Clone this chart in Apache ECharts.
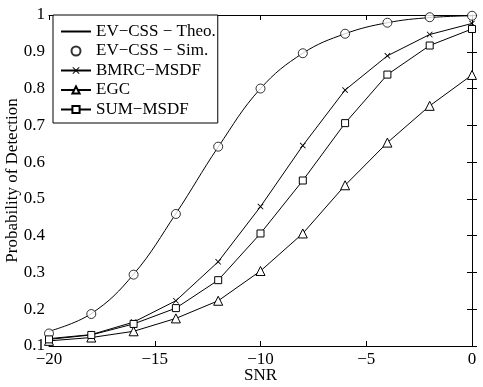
<!DOCTYPE html>
<html>
<head>
<meta charset="utf-8">
<script src="https://cdn.jsdelivr.net/npm/echarts@6/dist/echarts.min.js"></script>
<style>
  html, body { margin: 0; padding: 0; background: #fff; }
  #main { width: 483px; height: 387px; }
</style>
</head>
<body>
<div id="main"></div>
<script>
// SNR points (dB)
var snr = [-20, -18, -16, -14, -12, -10, -8, -6, -4, -2, 0];
// curves
var evTheo = [0.140, 0.188, 0.295, 0.460, 0.641, 0.800, 0.896, 0.949, 0.979, 0.993, 0.998];
var evSim  = [0.134, 0.187, 0.294, 0.459, 0.642, 0.800, 0.896, 0.949, 0.979, 0.994, 0.998];
var bmrc   = [0.120, 0.131, 0.165, 0.223, 0.329, 0.479, 0.645, 0.796, 0.889, 0.947, 0.977];
var egc    = [0.114, 0.123, 0.140, 0.175, 0.223, 0.304, 0.406, 0.537, 0.653, 0.753, 0.837];
var sumMsdf = [0.118, 0.130, 0.160, 0.203, 0.279, 0.406, 0.550, 0.706, 0.838, 0.917, 0.962];
var names = ['EV\u2212CSS \u2212 Theo.', 'EV\u2212CSS \u2212 Sim.', 'BMRC\u2212MSDF', 'EGC', 'SUM\u2212MSDF'];

function pairs(v) {
  var out = [];
  for (var i = 0; i < snr.length; i++) out.push([snr[i], v[i]]);
  return out;
}

var font = '"Liberation Serif", "DejaVu Serif", serif';
var xMark = 'path://M0,1L1,0L5,4L9,0L10,1L6,5L10,9L9,10L5,6L1,10L0,9L4,5Z';

var myChart = echarts.init(document.getElementById('main'));

// hollow markers: white fill, thin black edge
var hollow = { color: '#fff', borderColor: '#000', borderWidth: 1 };

var lineBase = {
  type: 'line',
  lineStyle: { color: '#000', width: 1 },
  showSymbol: true,
  animation: false
};

var option = {
  animation: false,
  textStyle: { fontFamily: font, color: '#000' },
  grid: { left: 49, right: 11, top: 15, bottom: 41, containLabel: false, outerBoundsMode: 'none' },
  legend: {
    orient: 'vertical',
    left: 53,
    top: 15,
    backgroundColor: '#fff',
    borderColor: '#000',
    borderWidth: 1,
    borderRadius: 0,
    padding: [8, 2, 5, 7],
    itemWidth: 30,
    itemHeight: 9,
    itemGap: 2.5,
    textStyle: { fontFamily: font, fontSize: 17, color: '#000', padding: [0, 0, 0, 0] },
    data: [
      { name: names[0], itemStyle: { color: 'transparent', borderColor: 'transparent', borderWidth: 0 } },
      { name: names[1] },
      { name: names[2] },
      { name: names[3] },
      { name: names[4] }
    ]
  },
  xAxis: [{
    type: 'value', min: -20, max: 0, interval: 5,
    name: 'SNR', nameLocation: 'middle', nameGap: 21, nameMoveOverlap: false,
    nameTextStyle: { fontFamily: font, fontSize: 17, color: '#000' },
    axisLine: { lineStyle: { color: '#000', width: 1 } },
    axisTick: { inside: true, length: 5, lineStyle: { color: '#000' } },
    axisLabel: {
      fontFamily: font, fontSize: 17, color: '#000', margin: 5,
      formatter: function (v) { return String(v).replace('-', '\u2212'); }
    },
    splitLine: { show: false }
  }, {
    type: 'value', position: 'top', min: -20, max: 0, interval: 5,
    axisLine: { lineStyle: { color: '#000', width: 1 } },
    axisTick: { inside: true, length: 5, lineStyle: { color: '#000' } },
    axisLabel: { show: false },
    splitLine: { show: false }
  }],
  yAxis: [{
    type: 'value', min: 0.1, max: 1, interval: 0.1,
    name: 'Probability of Detection', nameLocation: 'middle', nameGap: 28, nameMoveOverlap: false,
    nameTextStyle: { fontFamily: font, fontSize: 17, color: '#000' },
    axisLine: { show: true, lineStyle: { color: '#000', width: 1 } },
    axisTick: { show: true, inside: true, length: 5, lineStyle: { color: '#000' } },
    axisLabel: {
      fontFamily: font, fontSize: 17, color: '#000', margin: 4,
      formatter: function (v) { return String(Math.round(v * 10) / 10); }
    },
    splitLine: { show: false }
  }, {
    type: 'value', position: 'right', min: 0.1, max: 1, interval: 0.1,
    axisLine: { show: true, lineStyle: { color: '#000', width: 1 } },
    axisTick: { show: true, inside: true, length: 5, lineStyle: { color: '#000' } },
    axisLabel: { show: false },
    splitLine: { show: false }
  }],
  series: [
    Object.assign({}, lineBase, {
      name: names[0], data: pairs(evTheo), smooth: 0.4, symbol: 'none',
      itemStyle: { color: '#000' }, z: 2
    }),
    {
      name: names[1], type: 'scatter', data: pairs(evSim),
      symbol: 'circle', symbolSize: 9,
      itemStyle: hollow, z: 3
    },
    Object.assign({}, lineBase, {
      name: names[2], data: pairs(bmrc), symbol: xMark, symbolSize: 6,
      itemStyle: { color: '#000', borderWidth: 0 }
    }),
    Object.assign({}, lineBase, {
      name: names[3], data: pairs(egc), symbol: 'triangle', symbolSize: 9,
      itemStyle: hollow
    }),
    Object.assign({}, lineBase, {
      name: names[4], data: pairs(sumMsdf), symbol: 'rect', symbolSize: 7,
      itemStyle: hollow
    })
  ]
};

myChart.setOption(option);
</script>
</body>
</html>
